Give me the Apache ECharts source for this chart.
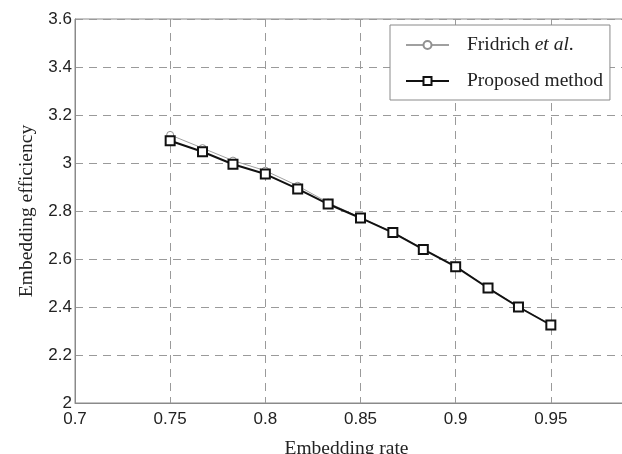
<!DOCTYPE html>
<html>
<head>
<meta charset="utf-8">
<script src="https://cdn.jsdelivr.net/npm/echarts@6/dist/echarts.min.js"></script>
<style>
html,body{margin:0;padding:0;background:#fff;overflow:hidden;width:622px;height:454px;}
#chart{width:660px;height:454px;}
</style>
</head>
<body>
<div id="chart"></div>
<script>
// Data
const rates = [0.75, 0.767, 0.783, 0.8, 0.817, 0.833, 0.85, 0.867, 0.883, 0.9, 0.917, 0.933, 0.95];
const fridrich = [3.117, 3.062, 3.010, 2.968, 2.905, 2.835, 2.772, 2.712, 2.642, 2.570, 2.480, 2.402, 2.326];
const proposed = [3.093, 3.047, 2.995, 2.954, 2.892, 2.829, 2.771, 2.710, 2.640, 2.568, 2.479, 2.400, 2.325];
const seriesNames = ['Fridrich et al.', 'Proposed method'];
const xAxisName = 'Embedding rate';
const yAxisName = 'Embedding efficiency';

const pair = (xs, ys) => xs.map((x, i) => [x, ys[i]]);

const chart = echarts.init(document.getElementById('chart'), null, {renderer: 'canvas'});
const gridColor = '#9a9a9a';
chart.setOption({
  animation: false,
  backgroundColor: '#fff',
  grid: {
    left: 75, top: 19, width: 571, height: 384,
    containLabel: false, outerBoundsMode: 'none',
    show: true, borderColor: '#8a8a8a', borderWidth: 1, backgroundColor: 'transparent'
  },
  xAxis: {
    type: 'value', min: 0.7, max: 1.0, interval: 0.05,
    name: xAxisName, nameLocation: 'middle', nameGap: 36,
    nameTextStyle: {fontFamily: 'Liberation Serif', fontSize: 19.5, color: '#222', padding: [0, 28, 0, 0]},
    axisLine: {show: true, lineStyle: {color: '#8a8a8a', width: 1}},
    axisTick: {show: false},
    axisLabel: {fontFamily: 'Liberation Sans', fontSize: 17, color: '#222', margin: 8,
      formatter: v => String(Math.round(v * 100) / 100)},
    splitLine: {show: true, lineStyle: {color: gridColor, width: 1, type: [8, 6]}}
  },
  yAxis: {
    type: 'value', min: 2, max: 3.6, interval: 0.2,
    name: yAxisName, nameLocation: 'middle', nameGap: 38,
    nameTextStyle: {fontFamily: 'Liberation Serif', fontSize: 19.5, color: '#222'},
    axisLine: {show: true, lineStyle: {color: '#8a8a8a', width: 1}},
    axisTick: {show: false},
    axisLabel: {fontFamily: 'Liberation Sans', fontSize: 17, color: '#222', margin: 3,
      formatter: v => String(Math.round(v * 10) / 10)},
    splitLine: {show: true, lineStyle: {color: gridColor, width: 1, type: [8, 6]}}
  },
  legend: {
    left: 390, top: 25, orient: 'vertical',
    backgroundColor: '#fff', borderColor: '#8a8a8a', borderWidth: 1, borderRadius: 0,
    padding: [9, 7, 8, 15],
    itemWidth: 43, itemHeight: 10, itemGap: 14,
    data: seriesNames,
    formatter: name => name === 'Fridrich et al.'
      ? '{n|Fridrich }{i|et al}{n|.}'
      : '{n|' + name + '}',
    textStyle: {
      fontFamily: 'Liberation Serif', fontSize: 19.5, color: '#222', lineHeight: 22,
      rich: {
        n: {fontFamily: 'Liberation Serif', fontSize: 19.5, color: '#222', lineHeight: 22},
        i: {fontFamily: 'Liberation Serif', fontSize: 19.5, fontStyle: 'italic', color: '#222', lineHeight: 22}
      },
      padding: [0, 0, 0, 13]
    }
  },
  series: [
    {
      name: seriesNames[0], type: 'line', data: pair(rates, fridrich),
      symbol: 'circle', symbolSize: 7, z: 2,
      lineStyle: {color: '#a0a0a0', width: 1},
      itemStyle: {color: '#fff', borderColor: '#909090', borderWidth: 1}
    },
    {
      name: seriesNames[1], type: 'line', data: pair(rates, proposed),
      symbol: 'rect', symbolSize: 9, z: 3,
      lineStyle: {color: '#111', width: 2},
      itemStyle: {color: '#fff', borderColor: '#111', borderWidth: 2}
    }
  ]
});
</script>
</body>
</html>
